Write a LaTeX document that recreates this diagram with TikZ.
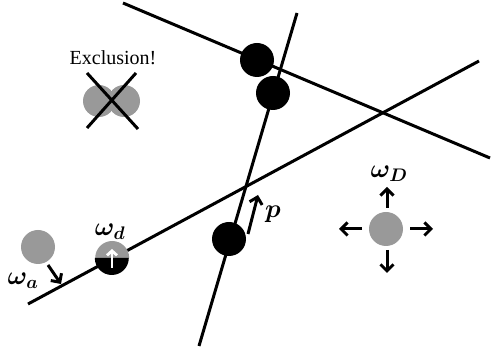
\RequirePackage{fix-cm}
\documentclass[tikz,border=0pt]{standalone}
\usepackage{fontspec}
\setmainfont{Liberation Serif}
\usetikzlibrary{arrows.meta}
\definecolor{ballgray}{gray}{0.6}
\begin{document}
\begin{tikzpicture}[x=1pt,y=-1pt,
  lin/.style={line width=3pt},
  blk/.style={circle,fill=black,minimum size=34pt,inner sep=0pt},
  gry/.style={circle,fill=ballgray,minimum size=34pt,inner sep=0pt},
  arr/.style={line width=3pt,-{Straight Barb[length=6.5pt,width=13pt,line width=3pt]}},
  lab/.style={font=\fontsize{26}{30}\selectfont\boldmath,inner sep=0pt}]
\useasboundingbox (0,0) rectangle (491,352);
% lines
\coordinate (l1a) at (123,3);
\coordinate (l1b) at (490,158);
\coordinate (l2a) at (297,13);
\coordinate (l2b) at (199,346);
\coordinate (l3a) at (28,304);
\coordinate (l3b) at (479,61);
\draw[lin] (l1a) -- (l1b);
\draw[lin] (l2a) -- (l2b);
\draw[lin] (l3a) -- (l3b);
% black particles
\node[blk] (b1) at (257,60) {};
\node[blk] (b2) at (273,93) {};
\node[blk] (b3) at (229,239) {};
% half particle
\node[circle,minimum size=34pt,inner sep=0pt] (hd) at (112,258) {};
\fill[ballgray] (hd.east) arc[start angle=0,end angle=180,radius=17pt] -- cycle;
\fill[black] (hd.west) arc[start angle=180,end angle=360,radius=17pt] -- cycle;
\coordinate (hdb) at (112,268);
\coordinate (hdt) at (112,249);
\draw[white,line width=2.8pt,-{Straight Barb[length=4.5pt,width=10pt,line width=2.8pt]}] (hdb) -- (hdt);
\node[lab] (ld) at (110,232) {$\omega_d$};
% adsorbing particle
\node[gry] (ga) at (38,247) {};
\coordinate (aa) at (48,265);
\coordinate (ab) at (61,284);
\draw[arr] (aa) -- (ab);
\node[lab] (la) at (23,281) {$\omega_a$};
% p arrow
\coordinate (pa) at (248,234);
\coordinate (pb) at (258,195);
\draw[arr] (pa) -- (pb);
\node[lab] (lp) at (273,214) {$p$};
% diffusing particle
\node[gry] (gD) at (386,229) {};
\coordinate (u1) at (387,208);
\coordinate (u2) at (387,187);
\coordinate (d1) at (387,250);
\coordinate (d2) at (387,273);
\coordinate (w1) at (362,229);
\coordinate (w2) at (339,229);
\coordinate (e1) at (410,229);
\coordinate (e2) at (433,229);
\draw[arr] (u1) -- (u2);
\draw[arr] (d1) -- (d2);
\draw[arr] (w1) -- (w2);
\draw[arr] (e1) -- (e2);
\node[lab] (lD) at (389,174) {$\omega_D$};
% exclusion
\node[font=\fontsize{20}{24}\selectfont] (ex) at (113,58) {Exclusion!};
\node[gry,minimum size=32pt] (x1) at (99,101) {};
\node[gry,minimum size=32pt] (x2) at (124,101) {};
\coordinate (xa) at (87,73);
\coordinate (xb) at (138,129);
\coordinate (xc) at (136,73);
\coordinate (xd) at (87,128);
\draw[lin] (xa) -- (xb);
\draw[lin] (xc) -- (xd);
\end{tikzpicture}
\end{document}
